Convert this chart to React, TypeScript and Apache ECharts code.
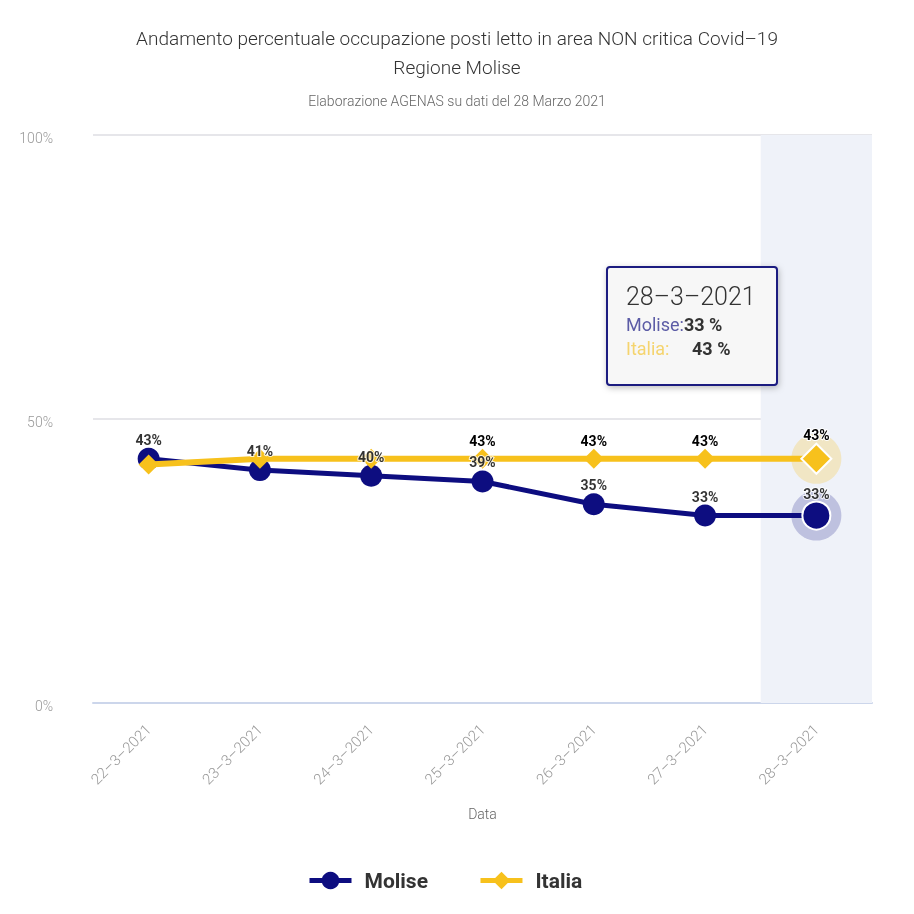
import React, { useEffect, useRef } from "react";
import * as echarts from "echarts";

const categories = ["22–3–2021", "23–3–2021", "24–3–2021", "25–3–2021", "26–3–2021", "27–3–2021", "28–3–2021"];
const molise = [43, 41, 40, 39, 35, 33, 33];
const italia = [42, 43, 43, 43, 43, 43, 43];
const italiaLabelShown = [false, false, false, true, true, true, true];
const yTicks = [0, 50, 100];
const highlightIndex = 6;

const NAVY = "#0d0d80";
const GOLD = "#f7c11c";

export default function App() {
  const ref = useRef<HTMLDivElement>(null);
  useEffect(() => {
    const chart = echarts.init(ref.current!, null, { renderer: "svg" });
    const last = highlightIndex;
    const labelStyle = {
      show: true,
      position: "top",
      distance: 1,
      fontFamily: "Roboto",
      fontWeight: "bold",
      fontSize: 14,
      color: "#000",
      textBorderColor: "#fff",
      textBorderWidth: 2,
      formatter: "{c}%",
    };
    const moliseData = molise.map((v, i) =>
      i === last
        ? { value: v, symbolSize: 28, itemStyle: { borderColor: "#fff", borderWidth: 2 } }
        : { value: v }
    );
    const moliseLabelData = molise.map((v, i) => (i === last ? { value: v, symbolSize: 28 } : { value: v }));
    const italiaData = italia.map((v, i) => {
      const d: any = { value: v, label: { show: italiaLabelShown[i] } };
      if (i === last) {
        d.symbolSize = 30;
        d.itemStyle = { borderColor: "#fff", borderWidth: 2 };
      }
      return d;
    });
    const band = categories.map((_, i) => (i === last ? yTicks[yTicks.length - 1] : "-"));
    const haloM = categories.map((_, i) => (i === last ? molise[i] : "-"));
    const haloI = categories.map((_, i) => (i === last ? italia[i] : "-"));

    chart.setOption({
      animation: false,
      textStyle: { fontFamily: "Roboto" },
      title: [
        {
          text: "Andamento percentuale occupazione posti letto in area NON critica Covid–19",
          left: "center",
          top: 24,
          textStyle: { fontFamily: "Roboto", fontWeight: 300, fontSize: 19, color: "#333" },
        },
        {
          text: "Regione Molise",
          left: "center",
          top: 53,
          textStyle: { fontFamily: "Roboto", fontWeight: 300, fontSize: 19, color: "#333" },
        },
        {
          text: "Elaborazione AGENAS su dati del 28 Marzo 2021",
          left: "center",
          top: 89,
          textStyle: { fontFamily: "Roboto", fontWeight: 300, fontSize: 14, color: "#666" },
        },
      ],
      grid: { left: 93, right: 42, top: 135, bottom: 211 },
      legend: {
        data: ["Molise", "Italia"],
        bottom: 18,
        left: 302,
        itemGap: 50,
        itemWidth: 42,
        itemHeight: 22,
        lineStyle: { width: 5 },
        textStyle: { fontFamily: "Roboto", fontWeight: "bold", fontSize: 21, color: "#333", padding: [0, 0, 0, 8] },
      },
      xAxis: {
        type: "category",
        data: categories,
        name: "Data",
        nameLocation: "middle",
        nameGap: 104,
        nameTextStyle: { fontFamily: "Roboto", fontWeight: 300, fontSize: 14, color: "#666" },
        axisLine: { lineStyle: { color: "#ccd6eb", width: 2 } },
        axisTick: { show: false },
        axisLabel: { rotate: 45, margin: 24, fontFamily: "Roboto", fontWeight: 300, fontSize: 15, color: "#999" },
      },
      yAxis: {
        type: "value",
        min: 0,
        max: 100,
        interval: 50,
        axisLine: { show: false },
        axisTick: { show: false },
        axisLabel: {
          margin: 40,
          formatter: "{value}%",
          fontFamily: "Roboto",
          fontWeight: 300,
          fontSize: 14,
          color: "#999",
          verticalAlign: "top",
          lineHeight: 6,
        },
        splitLine: { lineStyle: { color: "#e6e6ea", width: 2 } },
      },
      series: [
        {
          name: "band",
          type: "bar",
          data: band,
          barWidth: "100%",
          silent: true,
          itemStyle: { color: "#eff2f9" },
          z: 0,
        },
        {
          name: "haloM",
          type: "scatter",
          data: haloM,
          symbol: "circle",
          symbolSize: 50,
          silent: true,
          itemStyle: { color: "rgba(13,13,128,0.27)" },
          z: 1,
        },
        {
          name: "haloI",
          type: "scatter",
          data: haloI,
          symbol: "circle",
          symbolSize: 50,
          silent: true,
          itemStyle: { color: "rgba(247,193,28,0.3)" },
          z: 1,
        },
        {
          name: "Molise",
          type: "line",
          data: moliseData,
          symbol: "circle",
          symbolSize: 22,
          lineStyle: { color: NAVY, width: 5 },
          itemStyle: { color: NAVY },
          label: { show: false },
          z: 3,
        },
        {
          name: "Italia",
          type: "line",
          data: italiaData,
          symbol: "diamond",
          symbolSize: 20,
          lineStyle: { color: GOLD, width: 6 },
          itemStyle: { color: GOLD },
          label: labelStyle,
          z: 4,
        },
        {
          name: "MoliseLabels",
          type: "scatter",
          data: moliseLabelData,
          symbol: "circle",
          symbolSize: 22,
          silent: true,
          itemStyle: { color: "rgba(0,0,0,0)" },
          label: labelStyle,
          z: 6,
        },
      ],
      graphic: [
        {
          type: "rect",
          left: 606,
          top: 266,
          shape: { width: 170, height: 118, r: 3 },
          style: {
            fill: "#f7f7f7",
            stroke: "#1a1a80",
            lineWidth: 2,
            shadowBlur: 6,
            shadowOffsetX: 1,
            shadowOffsetY: 2,
            shadowColor: "rgba(0,0,0,0.25)",
          },
          z: 100,
        },
        {
          type: "text",
          left: 626,
          top: 284,
          style: { text: categories[last], font: "300 25px Roboto", fill: "#333" },
          z: 101,
        },
        {
          type: "text",
          left: 626,
          top: 315,
          style: {
            text: "{a|Molise:}{b|" + molise[last] + " %}",
            rich: {
              a: { fontFamily: "Roboto", fontSize: 18, fill: "#5c5ca6" },
              b: { fontFamily: "Roboto", fontSize: 18, fontWeight: "bold", fill: "#333" },
            },
          },
          z: 101,
        },
        {
          type: "text",
          left: 626,
          top: 339,
          style: {
            text: "{a|Italia:}{b|" + italia[last] + " %}",
            rich: {
              a: { fontFamily: "Roboto", fontSize: 18, fill: "#f5d46e", width: 66 },
              b: { fontFamily: "Roboto", fontSize: 18, fontWeight: "bold", fill: "#333" },
            },
          },
          z: 101,
        },
      ],
    });
    return () => chart.dispose();
  }, []);
  return <div ref={ref} style={{ position: "fixed", left: 0, top: 0, width: 914, height: 914 }} />;
}
